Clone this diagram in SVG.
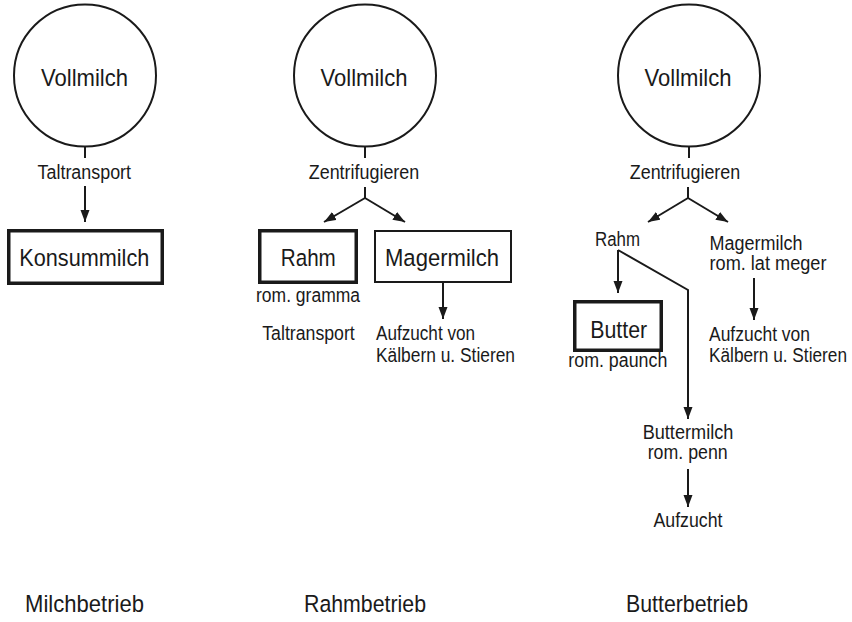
<svg xmlns="http://www.w3.org/2000/svg" width="852" height="622" viewBox="0 0 852 622">
<defs>
<marker id="ah" markerUnits="userSpaceOnUse" markerWidth="12" markerHeight="10" viewBox="0 0 12 10" refX="12" refY="5" orient="auto">
<path d="M0,0.5 L12,5 L0,9.5 z" fill="#1a1a1a"/>
</marker>
<style>
text{font-family:"Liberation Sans",Arial,sans-serif;fill:#1a1a1a}
.big{font-size:24.5px}
.sm{font-size:20px}
.c{text-anchor:middle}
.circ{fill:none;stroke:#1a1a1a;stroke-width:2}
.thick{fill:none;stroke:#1a1a1a;stroke-width:3.5}
.thin{fill:none;stroke:#1a1a1a;stroke-width:2}
.ln{fill:none;stroke:#1a1a1a;stroke-width:2}
.ar{fill:none;stroke:#1a1a1a;stroke-width:2;marker-end:url(#ah)}
</style>
</defs>
<rect width="852" height="622" fill="#fff"/>

<g id="connectors">
<line class="ln" x1="85" y1="147" x2="85" y2="158"/>
<line class="ar" x1="85" y1="186" x2="85" y2="222"/>
<line class="ln" x1="365" y1="147" x2="365" y2="158"/>
<polyline class="ln" points="365,187 365,198"/>
<line class="ar" x1="365" y1="198" x2="324" y2="222"/>
<line class="ar" x1="365" y1="198" x2="405" y2="222"/>
<line class="ar" x1="443" y1="283" x2="443" y2="319"/>
<line class="ln" x1="689" y1="147" x2="689" y2="158"/>
<polyline class="ln" points="688,187 688,198"/>
<line class="ar" x1="688" y1="198" x2="648" y2="222"/>
<line class="ar" x1="688" y1="198" x2="728" y2="222"/>
<line class="ar" x1="618" y1="250" x2="618" y2="293"/>
<polyline class="ar" points="618,250 688,290 688,419"/>
<line class="ar" x1="754" y1="278" x2="754" y2="320"/>
<line class="ar" x1="688" y1="469" x2="688" y2="507"/>
</g>

<g id="milch">
<g id="vollmilch1"><circle class="circ" cx="85" cy="75.5" r="71"/><text class="big c" x="84.5" y="86" textLength="87" lengthAdjust="spacingAndGlyphs">Vollmilch</text></g>
<text class="sm c" x="84.3" y="179" textLength="93.5" lengthAdjust="spacingAndGlyphs">Taltransport</text>
<g id="konsummilch"><rect class="thick" x="8.75" y="230.75" width="153.5" height="52.5"/><text class="big c" x="84.3" y="266" textLength="130" lengthAdjust="spacingAndGlyphs">Konsummilch</text></g>
<text id="milchbetrieb" class="big c" x="84.5" y="612" textLength="119" lengthAdjust="spacingAndGlyphs">Milchbetrieb</text>
</g>

<g id="rahm">
<g id="vollmilch2"><circle class="circ" cx="365" cy="75.5" r="71"/><text class="big c" x="364" y="86" textLength="87" lengthAdjust="spacingAndGlyphs">Vollmilch</text></g>
<text class="sm c" x="364" y="179" textLength="110.5" lengthAdjust="spacingAndGlyphs">Zentrifugieren</text>
<g id="rahmbox"><rect class="thick" x="259.75" y="230.75" width="96.5" height="51.5"/><text class="big c" x="308.3" y="266" textLength="55" lengthAdjust="spacingAndGlyphs">Rahm</text>
<text class="sm c" x="308" y="302" textLength="104" lengthAdjust="spacingAndGlyphs">rom. gramma</text></g>
<g id="magermilch1"><rect class="thin" x="375" y="231" width="136" height="51"/><text class="big c" x="442" y="266" textLength="114" lengthAdjust="spacingAndGlyphs">Magermilch</text></g>
<text class="sm c" x="308.5" y="340" textLength="92.5" lengthAdjust="spacingAndGlyphs">Taltransport</text>
<g id="aufzucht1"><text class="sm" x="376" y="340" textLength="99" lengthAdjust="spacingAndGlyphs">Aufzucht von</text><text class="sm" x="376" y="362" textLength="139" lengthAdjust="spacingAndGlyphs">Kälbern u. Stieren</text></g>
<text id="rahmbetrieb" class="big c" x="365" y="612" textLength="122" lengthAdjust="spacingAndGlyphs">Rahmbetrieb</text>
</g>

<g id="butter">
<g id="vollmilch3"><circle class="circ" cx="689" cy="75.5" r="71"/><text class="big c" x="688" y="86" textLength="87" lengthAdjust="spacingAndGlyphs">Vollmilch</text></g>
<text class="sm c" x="685" y="179" textLength="110.5" lengthAdjust="spacingAndGlyphs">Zentrifugieren</text>
<text id="rahm2" class="sm c" x="617.5" y="246" textLength="45" lengthAdjust="spacingAndGlyphs">Rahm</text>
<g id="magermilch2"><text class="sm" x="709.5" y="250" textLength="93" lengthAdjust="spacingAndGlyphs">Magermilch</text><text class="sm" x="709.5" y="270" textLength="117" lengthAdjust="spacingAndGlyphs">rom. lat meger</text></g>
<g id="butterbox"><rect class="thick" x="574.75" y="301.75" width="86.5" height="48.5"/><text class="big c" x="618.7" y="338" textLength="57" lengthAdjust="spacingAndGlyphs">Butter</text>
<text class="sm c" x="617.8" y="367" textLength="99" lengthAdjust="spacingAndGlyphs">rom. paunch</text></g>
<g id="aufzucht2"><text class="sm" x="709" y="341" textLength="101" lengthAdjust="spacingAndGlyphs">Aufzucht von</text><text class="sm" x="709" y="362" textLength="138" lengthAdjust="spacingAndGlyphs">Kälbern u. Stieren</text></g>
<g id="buttermilch"><text class="sm c" x="688" y="438.5" textLength="90.7" lengthAdjust="spacingAndGlyphs">Buttermilch</text><text class="sm c" x="687.7" y="458.5" textLength="80" lengthAdjust="spacingAndGlyphs">rom. penn</text></g>
<text id="aufzucht3" class="sm c" x="688" y="527" textLength="69" lengthAdjust="spacingAndGlyphs">Aufzucht</text>
<text id="butterbetrieb" class="big c" x="687" y="612" textLength="122" lengthAdjust="spacingAndGlyphs">Butterbetrieb</text>
</g>
</svg>
